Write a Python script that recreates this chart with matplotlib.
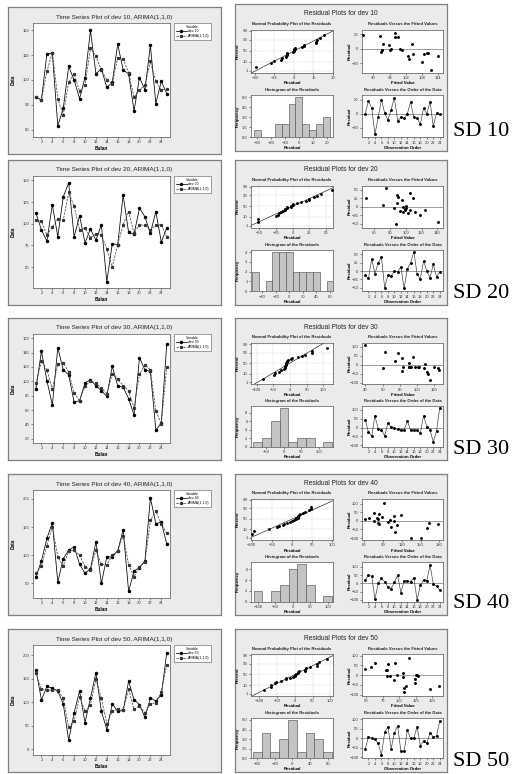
import matplotlib
matplotlib.use('Agg')
import matplotlib.pyplot as plt
from matplotlib.lines import Line2D
from statistics import NormalDist
import numpy as np

plt.rcParams['font.family'] = ['Liberation Sans', 'DejaVu Sans']

# ---------------- DATA ----------------
bulan = list(range(1, 26))

dev10 = [93, 92, 110.6, 110.8, 81.5, 88.5, 105.5, 100, 92.5, 101, 120, 102.5, 104.5, 97, 99,
         114.5, 104, 102.5, 87.5, 101, 96, 114, 90.5, 99.5, 94.5]
arima10 = [93, 92, 103.5, 111, 92.5, 86, 99, 102.5, 95.5, 98, 113, 109.5, 104, 100, 98.5,
           109, 108.5, 103, 93, 96, 98, 107.5, 99.5, 96, 96.5]
dev20 = [112, 93, 80, 122, 85, 131, 147, 85, 109, 78, 94, 81, 99, 33, 77, 76, 133, 90, 88,
         118, 108, 89, 114, 79, 95]
arima20 = [104, 103, 87, 96, 106, 104, 136, 120, 93, 95, 84, 88, 87, 71, 50, 76, 99, 114, 89,
           99, 98, 93, 98, 99, 85]
dev30 = [90, 142, 101, 67, 147, 116, 109, 71, 73, 98, 102, 94, 87, 79, 121, 94, 92, 76, 53,
         133, 116, 114, 32, 42, 152]
arima30 = [97, 128, 116, 89, 124, 126, 113, 84, 73, 93, 101, 97, 91, 83, 110, 103, 94, 87, 63,
           110, 123, 116, 59, 41, 120]
dev40 = [62, 90, 130, 158, 52, 94, 109, 115, 84, 68, 76, 124, 50, 97, 97, 108, 145, 36, 72,
         78, 90, 202, 156, 159, 120]
arima40 = [68, 81, 117, 151, 97, 81, 108, 109, 100, 80, 74, 109, 84, 83, 100, 108, 135, 83, 62,
           79, 88, 162, 178, 156, 139]
dev50 = [169, 105, 134, 130, 124, 97, 19, 78, 124, 57, 109, 163, 81, 42, 97, 81, 83, 145, 106,
         95, 68, 109, 103, 116, 205]
arima50 = [162, 128, 126, 126, 126, 109, 47, 61, 111, 81, 95, 149, 109, 55, 81, 86, 83, 128, 85,
           92, 78, 97, 99, 121, 180]

# residuals in observation order
resid10 = [0, 18, 8, -29, -5, 20, 1, -9, 6, 23, -10, -5, -6, 0, 17, -5, -6, -15, 8, 0, 17, -18, 1, -1]
resid20 = [-12, -22, 36, -8, 25, 42, -51, -12, -15, 0, -2, 12, -52, 7, 25, 58, -8, -25, 31, 0,
           -20, 20, -17, -3]
resid30 = [45, -27, -49, 67, -9, -15, -45, 24, 4, -5, -10, -13, -13, 36, -15, -12, -15, -33, 67,
           5, -13, -82, -18, 112]
resid40 = [21, 48, 42, -95, 0, 29, 10, -23, -32, 6, 48, -57, 15, 15, 10, 34, -99, -13, 19, 15,
           110, -4, -19, -38]
resid50 = [-55, 8, 2, -5, -25, -87, 33, 62, -53, 30, 67, -67, -67, 42, 0, 0, 62, -38, -13, -25,
           30, 8, 13, 92]

# residuals versus fitted values (fitted, residual)
fitted10 = [86, 92.5, 93.5, 92.8, 93, 95.8, 96.2, 96.5, 98, 98, 99, 100, 100.7, 102.7, 103.3,
            104.3, 104.5, 107.8, 108.7, 109.7, 110.3, 111.3, 114, 93.3]
fitres10 = [19, 17, 7, -4, -1.5, 5.5, -2, -1, 21, 15.5, 16, 0, -2, -10, -15, 7, -8, -18.6, -7,
            -6, -5.5, -30, -10, -2.5]
fitted20 = [49.6, 72, 75, 85, 89, 90, 89.6, 88, 95, 96, 97, 99, 99.6, 101, 103, 105, 106, 109,
            112, 118, 124, 141, 93, 101]
fitres20 = [25, 6, 56, -4, 34, 29, 11, -49, 20, 0, -14, -10, -5, -4, -19, 42, -10, 25, -16, -25,
            -10, -46, -12, 3]
fitted30 = [40, 60, 63, 74, 78, 82, 82, 83, 90, 91, 93, 95, 97, 101, 102, 108, 109, 111, 113,
            115, 120, 124, 125, 90]
fitres30 = [108, -20, 68, 22, 63, 35, -33, -15, 7, -15, -10, 45, -11, -12, -12, -18, 4, -42, -50,
            -85, -10, -18, -28, -12]
fitted40 = [61, 68, 76, 80, 82, 81, 83, 84, 91, 97, 101, 102, 107, 108, 109, 112, 119, 134, 150,
            161, 164, 178, 76, 88]
fitres40 = [14, 17, 47, 19, 13, -11, -20, 43, 108, -5, 7, -33, 0, 32, -62, -23, 36, -100, -100,
            -40, -10, -20, 0, 26]
fitted50 = [48, 58, 63, 80, 81, 81, 83, 86, 92, 94, 97, 105, 106, 107, 108, 110, 115, 124, 124,
            126, 127, 128, 146, 160]
fitres50 = [30, 42, 62, 28, 25, -3, 58, -3, -25, 63, 3, -8, 12, -67, -88, -55, 87, -22, -38, 3,
            0, -5, -70, -55]

# histogram bins (centres) and frequencies
hbin10 = [-30, -25, -20, -15, -10, -5, 0, 5, 10, 15, 20]
hcnt10 = [1, 0, 0, 2, 2, 5, 6, 2, 1, 2, 3]
hbin20 = [-50, -40, -30, -20, -10, 0, 10, 20, 30, 40, 50, 60]
hcnt20 = [2, 0, 1, 4, 4, 4, 2, 2, 2, 2, 0, 1]
hbin30 = [-75, -50, -25, 0, 25, 50, 75, 100, 125]
hcnt30 = [1, 2, 6, 9, 1, 2, 2, 0, 1]
hbin40 = [-100, -75, -50, -25, 0, 25, 50, 75, 100]
hcnt40 = [2, 0, 2, 3, 6, 7, 3, 0, 1]
hbin50 = [-80, -60, -40, -20, 0, 20, 40, 60, 80]
hcnt50 = [1, 4, 1, 3, 6, 1, 4, 3, 1]

names = ['dev 10', 'dev 20', 'dev 30', 'dev 40', 'dev 50']
sd_labels = ['SD 10', 'SD 20', 'SD 30', 'SD 40', 'SD 50']
ts_xticks = list(range(2, 25, 2))
order_xticks = list(range(2, 25, 2))
npp_pct_ticks = [1, 10, 50, 90, 99]

# ---------------- LAYOUT / STYLE ----------------
W, H = 516, 774
fig = plt.figure(figsize=(W / 100, H / 100), dpi=100)
fig.patch.set_facecolor('white')

def rect(x, y, w, h):
    return [x / W, 1 - (y + h) / H, w / W, h / H]

PANEL_BG = '#ebebeb'
EDGE = '#808080'

def panel(x, y, w, h):
    ax = fig.add_axes(rect(x, y, w, h), zorder=0)
    ax.set_facecolor(PANEL_BG)
    ax.set_xticks([]); ax.set_yticks([])
    for s in ax.spines.values():
        s.set_color(EDGE); s.set_linewidth(0.9)
    return ax

def style(ax):
    ax.set_facecolor('white')
    for s in ax.spines.values():
        s.set_color('#555555'); s.set_linewidth(0.5)
    ax.tick_params(labelsize=3.0, length=1.5, width=0.4, pad=1, colors='#333333')

TICK_FS = 3.0
LAB_FS = 3.1

rows = [
    dict(dev=dev10, arima=arima10, resid=resid10, fx=fitted10, fy=fitres10, hb=hbin10, hc=hcnt10,
         ts_ylim=(77, 123), ts_yt=[80, 90, 100, 110, 120],
         npp_xlim=(-33, 30), npp_xt=[-30, -15, 0, 15, 30],
         h_xlim=(-34.3, 24.3), h_xt=[-30, -20, -10, 0, 10, 20], h_ylim=(0, 6.3), h_yt=[0, 1.5, 3.0, 4.5, 6.0],
         f_xlim=(85.8, 115.7), f_xt=[90, 96, 102, 108, 114],
         r_ylim=(-33, 26), r_yt=[-20, 0, 20]),
    dict(dev=dev20, arima=arima20, resid=resid20, fx=fitted20, fy=fitres20, hb=hbin20, hc=hcnt20,
         ts_ylim=(26, 155), ts_yt=[50, 75, 100, 125, 150],
         npp_xlim=(-62, 60), npp_xt=[-50, -25, 0, 25, 50],
         h_xlim=(-56.6, 64.5), h_xt=[-40, -20, 0, 20, 40, 60], h_ylim=(0, 4.2), h_yt=[0, 1, 2, 3, 4],
         f_xlim=(45, 147), f_xt=[60, 80, 100, 120, 140],
         r_ylim=(-61, 63), r_yt=[-50, -25, 0, 25, 50]),
    dict(dev=dev30, arima=arima30, resid=resid30, fx=fitted30, fy=fitres30, hb=hbin30, hc=hcnt30,
         ts_ylim=(14, 166), ts_yt=[20, 40, 60, 80, 100, 120, 140, 160],
         npp_xlim=(-117, 129), npp_xt=[-100, -50, 0, 50, 100],
         h_xlim=(-94, 140), h_xt=[-50, 0, 50, 100], h_ylim=(0, 9.5), h_yt=[0, 2, 4, 6, 8],
         f_xlim=(36, 130), f_xt=[40, 60, 80, 100, 120],
         r_ylim=(-107, 120), r_yt=[-100, -50, 0, 50, 100]),
    dict(dev=dev40, arima=arima40, resid=resid40, fx=fitted40, fy=fitres40, hb=hbin40, hc=hcnt40,
         ts_ylim=(24, 216), ts_yt=[50, 100, 150, 200],
         npp_xlim=(-102, 103), npp_xt=[-100, -50, 0, 50, 100],
         h_xlim=(-120, 115), h_xt=[-100, -50, 0, 50, 100], h_ylim=(0, 7.4), h_yt=[0, 2, 4, 6],
         f_xlim=(56, 186), f_xt=[60, 90, 120, 150, 180],
         r_ylim=(-110, 130), r_yt=[-100, -50, 0, 50, 100]),
    dict(dev=dev50, arima=arima50, resid=resid50, fx=fitted50, fy=fitres50, hb=hbin50, hc=hcnt50,
         ts_ylim=(-12, 222), ts_yt=[0, 50, 100, 150, 200],
         npp_xlim=(-124, 108), npp_xt=[-100, -50, 0, 50, 100],
         h_xlim=(-94, 92), h_xt=[-80, -40, 0, 40, 80], h_ylim=(0, 6.3), h_yt=[0, 1.5, 3.0, 4.5, 6.0],
         f_xlim=(44, 166), f_xt=[50, 75, 100, 125, 150],
         r_ylim=(-105, 108), r_yt=[-100, -50, 0, 50, 100]),
]

left_tops = [7, 160, 318, 474, 629]
left_bots = [154, 305, 460, 615, 772]
right_tops = [4, 160, 318, 474, 629]
right_bots = [151, 305, 460, 615, 772]
sd_y = [132, 293, 450, 603, 761]

nd = NormalDist()

for i, r in enumerate(rows):
    name = names[i]
    # ---------- time series panel ----------
    t, b = left_tops[i], left_bots[i]
    panel(8, t, 213, b - t)
    fig.text(114.5 / W, 1 - (t + 10) / H, f'Time Series Plot of {name}, ARIMA(1,1,0)',
             ha='center', va='center', fontsize=4.6, color='#222222')
    ay0, ay1 = t + 16, b - 17
    ax = fig.add_axes(rect(33, ay0, 137, ay1 - ay0), zorder=2)
    style(ax)
    l1, = ax.plot(bulan, r['dev'], color='black', lw=0.55, marker='o', ms=1.5, mfc='black', mec='black')
    l2, = ax.plot(bulan, r['arima'], color='#444444', lw=0.55, ls=(0, (3, 1.5)), marker='s', ms=1.3,
                  mfc='#333333', mec='#333333')
    ax.set_xlim(0.45, 25.6)
    ax.set_ylim(*r['ts_ylim'])
    ax.set_xticks(ts_xticks)
    ax.set_yticks(r['ts_yt'])
    ax.set_xlabel('Bulan', fontsize=3.4, fontweight='bold', labelpad=1)
    ax.set_ylabel('Data', fontsize=3.4, fontweight='bold', labelpad=1)
    ax.yaxis.set_label_coords(-0.124, 0.5)
    leg = ax.legend([l1, l2], [name, 'ARIMA(1,1,0)'], title='Variable', loc='upper left',
                    bbox_to_anchor=(174 / W, 1 - ay0 / H), bbox_transform=fig.transFigure,
                    fontsize=2.5, title_fontsize=2.5, frameon=True, fancybox=False,
                    edgecolor='#777777', framealpha=1, borderpad=0.5, handlelength=3.2,
                    labelspacing=0.15, handletextpad=0.4, borderaxespad=0)
    leg.get_frame().set_linewidth(0.5)

    # ---------- residual plots panel ----------
    t, b = right_tops[i], right_bots[i]
    h = b - t
    panel(235, t, 212, h)
    fig.text(341 / W, 1 - (t + 0.068 * h) / H, f'Residual Plots for {name}',
             ha='center', va='center', fontsize=4.8, color='#222222')
    top0, top1 = t + 0.176 * h, t + 0.466 * h
    bot0, bot1 = t + 0.622 * h, t + 0.905 * h
    sub_top = t + 0.137 * h
    sub_bot = t + 0.588 * h

    def sub(x0, x1, y0, y1, title, ty):
        a = fig.add_axes(rect(x0, y0, x1 - x0, y1 - y0), zorder=2)
        style(a)
        fig.text((x0 + x1) / 2 / W, 1 - ty / H, title, ha='center', va='center',
                 fontsize=3.1, fontweight='bold', color='#222222')
        return a

    res = np.array(r['resid'], dtype=float)
    n = len(res)

    # Normal probability plot
    a1 = sub(251, 333, top0, top1, 'Normal Probability Plot of the Residuals', sub_top)
    srt = np.sort(res)
    pct = [(k + 1 - 0.3) / (n + 0.4) for k in range(n)]
    zq = np.array([nd.inv_cdf(p) for p in pct])
    mu, sd = res.mean(), res.std(ddof=1)
    zl = np.array([-2.6, 2.6])
    a1.plot(mu + sd * zl, zl, color='#333333', lw=0.5, zorder=2)
    a1.plot(srt, zq, 'o', color='black', ms=1.1, zorder=3)
    a1.set_xlim(*r['npp_xlim'])
    a1.set_ylim(-2.55, 2.45)
    a1.set_xticks(r['npp_xt'])
    a1.set_yticks([nd.inv_cdf(p / 100) for p in npp_pct_ticks])
    a1.set_yticklabels([str(p) for p in npp_pct_ticks])
    a1.grid(True, color='#c8c8c8', ls=(0, (2, 1.5)), lw=0.35)
    a1.set_axisbelow(True)
    a1.set_xlabel('Residual', fontsize=LAB_FS, fontweight='bold', labelpad=1)
    a1.set_ylabel('Percent', fontsize=LAB_FS, fontweight='bold', labelpad=1)
    a1.yaxis.set_label_coords(-0.14, 0.5)

    # Residuals vs fitted values
    a2 = sub(362, 443, top0, top1, 'Residuals Versus the Fitted Values', sub_top)
    a2.axhline(0, color='#777777', lw=0.5, zorder=1)
    a2.plot(r['fx'], r['fy'], 'o', color='black', ms=1.1, zorder=3)
    a2.set_xlim(*r['f_xlim'])
    a2.set_ylim(*r['r_ylim'])
    a2.set_xticks(r['f_xt'])
    a2.set_yticks(r['r_yt'])
    a2.set_xlabel('Fitted Value', fontsize=LAB_FS, fontweight='bold', labelpad=1)
    a2.set_ylabel('Residual', fontsize=LAB_FS, fontweight='bold', labelpad=1)
    a2.yaxis.set_label_coords(-0.13, 0.5)

    # Histogram
    a3 = sub(251, 333, bot0, bot1, 'Histogram of the Residuals', sub_bot)
    hb = np.array(r['hb'], dtype=float)
    bw = hb[1] - hb[0]
    a3.bar(hb, r['hc'], width=bw, color='#c4c4c4', edgecolor='#555555', linewidth=0.45, zorder=2)
    a3.set_xlim(*r['h_xlim'])
    a3.set_ylim(*r['h_ylim'])
    a3.set_xticks(r['h_xt'])
    a3.set_yticks(r['h_yt'])
    if any(isinstance(v, float) and not float(v).is_integer() for v in r['h_yt']):
        a3.set_yticklabels([f'{v:.1f}' for v in r['h_yt']])
    a3.set_xlabel('Residual', fontsize=LAB_FS, fontweight='bold', labelpad=1)
    a3.set_ylabel('Frequency', fontsize=LAB_FS, fontweight='bold', labelpad=1)
    a3.yaxis.set_label_coords(-0.14, 0.5)

    # Residuals vs order
    a4 = sub(362, 443, bot0, bot1, 'Residuals Versus the Order of the Data', sub_bot)
    order = list(range(1, n + 1))
    a4.axhline(0, color='#777777', lw=0.5, zorder=1)
    a4.plot(order, res, color='#333333', lw=0.45, marker='o', ms=1.1, mfc='black', mec='black', zorder=3)
    a4.set_xlim(0, n + 1)
    a4.set_ylim(*r['r_ylim'])
    a4.set_xticks(order_xticks)
    a4.set_yticks(r['r_yt'])
    a4.set_xlabel('Observation Order', fontsize=LAB_FS, fontweight='bold', labelpad=1)
    a4.set_ylabel('Residual', fontsize=LAB_FS, fontweight='bold', labelpad=1)
    a4.yaxis.set_label_coords(-0.13, 0.5)

    # SD label
    fig.text(453 / W, 1 - sd_y[i] / H, sd_labels[i], ha='left', va='center',
             fontsize=16, family=['Liberation Serif', 'DejaVu Serif'], color='black')

fig.savefig('out.png', dpi=100, facecolor='white')
